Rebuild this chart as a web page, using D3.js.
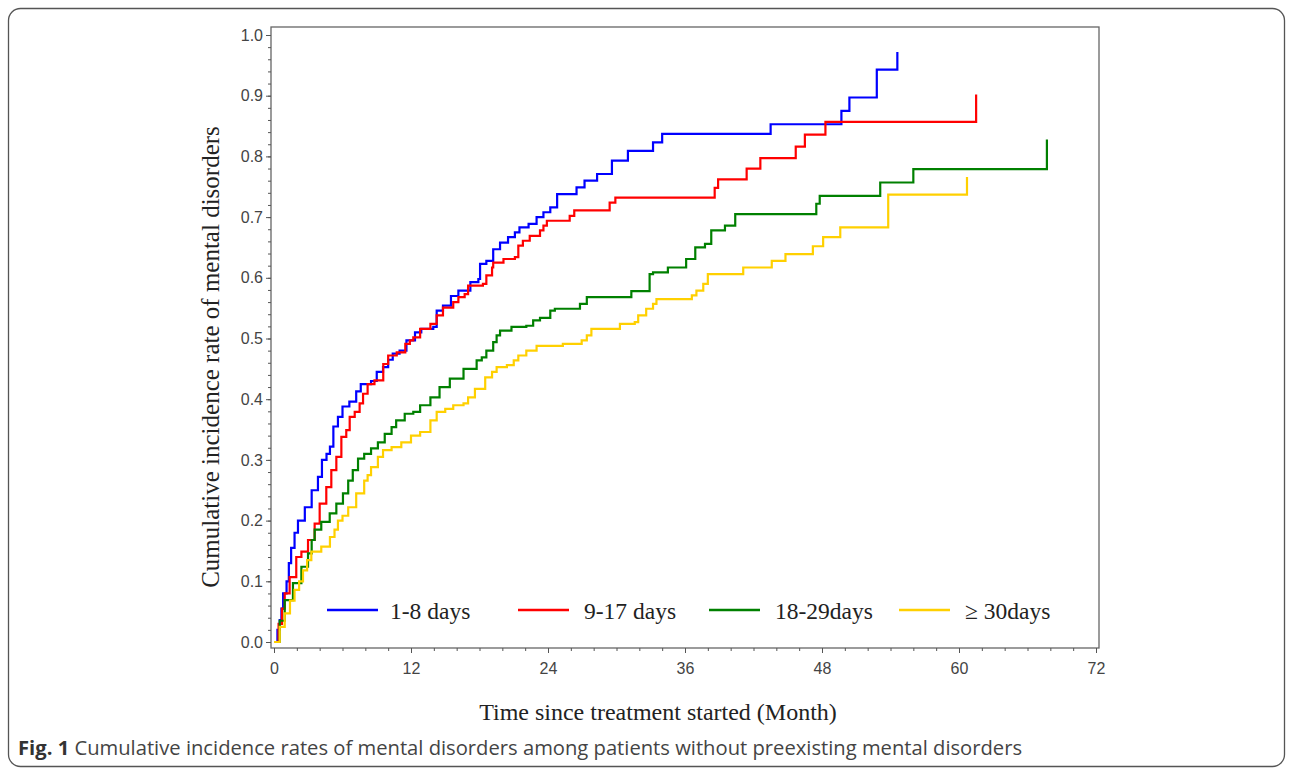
<!DOCTYPE html>
<html lang="en">
<head>
  <meta charset="UTF-8">
  <title>Cumulative incidence of mental disorders</title>
  <script src="https://d3js.org/d3.v7.min.js"></script>
  <style>
    body {
      margin: 0;
      background: #fff;
    }
    .tick text {
      font-family: "Liberation Sans", Arial, sans-serif;
      font-size: 16px;
      fill: #444;
    }
    .tick line {
      stroke: #555;
    }
    .axis-title, .legend text {
      font-family: "Liberation Serif", "Times New Roman", serif;
      fill: #222;
    }
    .caption {
      font-family: "Open Sans", "Noto Sans", sans-serif;
      font-size: 20.2px;
      fill: #444;
    }
  </style>
</head>
<body>
  <svg width="1292" height="770"></svg>

  <script>
    // series labels, in legend order
    const groups = ["1-8 days", "9-17 days", "18-29days", "\u2265 30days"];

    // step points: [month, cumulative incidence]
    const days1to8 = [
      [0,0],[0.3,0.02],[0.5,0.036],[0.65,0.055],[0.8,0.08],[1.1,0.1],[1.3,0.13],[1.5,0.155],
      [1.8,0.18],[2.1,0.2],
      [2.7,0.222],[3.3,0.25],[3.85,0.272],[4.2,0.3],[4.6,0.31],[4.9,0.322],[5.2,0.355],
      [5.6,0.371],[6.0,0.388],[6.6,0.396],[7.2,0.413],[7.6,0.425],[8.5,0.43],[9.0,0.445],
      [9.55,0.453],[10.0,0.465],[10.4,0.475],[11.0,0.48],[11.6,0.497],[12.35,0.51],
      [12.9,0.516],[13.95,0.519],[14.25,0.546],[14.8,0.554],[15.5,0.57],[16.15,0.579],
      [17.2,0.593],[17.9,0.598],[18.05,0.623],[18.6,0.628],[19.2,0.647],[19.8,0.658],
      [20.5,0.667],[21.1,0.675],[21.5,0.683],[22.3,0.689],[23.0,0.7],[23.6,0.708],
      [24.2,0.716],[24.8,0.738],[26.5,0.749],[27.2,0.76],[28.3,0.771],[29.6,0.793],
      [31.0,0.809],[33.2,0.823],[34.0,0.837],[43.5,0.853],[49.7,0.875],[50.4,0.897],
      [52.8,0.943],[54.6,0.972]
    ];
    const days9to17 = [
      [0,0],[0.4,0.03],[0.7,0.055],[0.94,0.08],[1.37,0.107],[1.95,0.14],[2.4,0.149],[2.98,0.168],
      [3.56,0.195],[4.0,0.228],[4.58,0.255],[5.02,0.283],[5.46,0.305],[5.9,0.338],
      [6.33,0.349],[6.63,0.371],[7.07,0.379],[7.5,0.393],[7.8,0.409],[8.2,0.425],
      [8.8,0.431],[9.57,0.458],[10.0,0.472],[10.75,0.477],[11.5,0.491],[11.9,0.497],
      [12.2,0.502],[12.8,0.516],[13.7,0.524],[14.25,0.538],[14.8,0.551],[15.7,0.56],
      [16.15,0.568],[16.7,0.573],[17.0,0.587],[18.3,0.59],[18.6,0.604],[19.1,0.617],
      [19.2,0.625],[20.1,0.631],[21.1,0.634],[21.4,0.653],[21.8,0.661],[22.4,0.669],
      [23.3,0.678],[23.6,0.686],[23.9,0.694],[25.9,0.702],[26.3,0.711],[29.4,0.724],
      [29.9,0.732],[38.6,0.748],[38.9,0.762],[41.4,0.78],[42.6,0.797],[45.7,0.816],
      [46.5,0.836],[48.3,0.857],[61.5,0.902]
    ];
    const days18to29 = [
      [0,0],[0.5,0.035],[0.94,0.069],[1.66,0.097],[2.4,0.124],[2.98,0.146],[3.3,0.168],
      [3.56,0.185],[4.14,0.198],[4.88,0.212],[5.46,0.228],[6.04,0.245],[6.5,0.266],
      [6.9,0.283],[7.36,0.302],[7.9,0.31],[8.5,0.319],[9.1,0.329],[9.7,0.343],[10.3,0.354],
      [10.7,0.365],[11.45,0.376],[12.2,0.379],[12.8,0.39],[13.7,0.403],[14.5,0.42],
      [15.4,0.434],[16.6,0.45],[17.75,0.464],[18.2,0.469],[18.6,0.48],[19.2,0.494],
      [19.5,0.505],[19.8,0.513],[20.8,0.519],[22.1,0.521],[22.7,0.53],[23.3,0.534],
      [24.2,0.546],[24.6,0.549],[26.8,0.557],[27.4,0.568],[31.3,0.578],[32.9,0.606],
      [33.2,0.609],[34.5,0.617],[36.1,0.631],[36.9,0.65],[37.75,0.656],[38.3,0.678],
      [39.5,0.686],[40.4,0.705],[47.5,0.722],[47.8,0.735],[53.1,0.757],[56.0,0.779],
      [67.7,0.828]
    ];
    const days30plus = [
      [0,0],[0.5,0.025],[0.94,0.047],[1.4,0.068],[1.8,0.086],[2.2,0.1],[2.54,0.118],
      [2.9,0.135],[3.27,0.149],[4.14,0.157],[4.9,0.173],[5.3,0.185],[5.6,0.2],[6.0,0.208],
      [6.5,0.222],[7.2,0.245],[7.9,0.266],[8.2,0.275],[8.5,0.288],[9.1,0.305],[9.55,0.316],
      [10.3,0.321],[11.15,0.329],[12.0,0.34],[12.8,0.346],[13.7,0.365],[14.25,0.379],
      [15.0,0.384],[15.7,0.39],[16.6,0.393],[17.0,0.403],[17.6,0.417],[18.5,0.436],
      [19.1,0.445],[19.5,0.453],[20.4,0.456],[21.0,0.464],[21.4,0.472],[22.1,0.48],
      [23.0,0.488],[25.3,0.491],[26.95,0.497],[27.4,0.505],[27.8,0.516],[30.3,0.524],
      [31.6,0.527],[31.9,0.538],[32.6,0.549],[33.2,0.557],[33.5,0.565],[36.6,0.571],
      [37.0,0.579],[37.6,0.59],[38.0,0.606],[41.1,0.617],[43.6,0.628],[44.8,0.639],
      [47.2,0.652],[48.1,0.667],[49.6,0.683],[53.8,0.737],[60.7,0.766]
    ];

    const xTicks = [0, 12, 24, 36, 48, 60, 72];
    const yTicks = [0, 0.1, 0.2, 0.3, 0.4, 0.5, 0.6, 0.7, 0.8, 0.9, 1.0];

    const seriesData = [days1to8, days9to17, days18to29, days30plus];
    const colors = ["#0000ff", "#ff0000", "#008000", "#ffd000"];

    const svg = d3.select("svg");

    // outer figure border
    svg.append("rect")
      .attr("x", 8.5).attr("y", 8.5)
      .attr("width", 1276).attr("height", 758)
      .attr("rx", 12)
      .attr("fill", "none")
      .attr("stroke", "#555")
      .attr("stroke-width", 1.3);

    const frame = {left: 271, top: 27, right: 1099, bottom: 648};

    const x = d3.scaleLinear().domain([0, 72]).range([274, 1096]);
    const y = d3.scaleLinear().domain([0, 1]).range([642, 35]);

    // plot frame
    svg.append("rect")
      .attr("x", frame.left).attr("y", frame.top)
      .attr("width", frame.right - frame.left)
      .attr("height", frame.bottom - frame.top)
      .attr("fill", "none")
      .attr("stroke", "#666")
      .attr("stroke-width", 1.3);

    // x axis, major + minor ticks
    svg.append("g")
      .attr("transform", `translate(0,${frame.bottom})`)
      .call(d3.axisBottom(x).tickValues(d3.range(0, 73, 2)).tickSize(3).tickFormat(""))
      .call(g => g.select(".domain").remove());
    svg.append("g")
      .attr("transform", `translate(0,${frame.bottom})`)
      .call(d3.axisBottom(x).tickValues(xTicks).tickSize(5).tickPadding(10).tickFormat(d3.format("d")))
      .call(g => g.select(".domain").remove());

    // y axis, major + minor ticks
    svg.append("g")
      .attr("transform", `translate(${frame.left},0)`)
      .call(d3.axisLeft(y).tickValues(d3.range(0, 1.001, 0.02)).tickSize(3).tickFormat(""))
      .call(g => g.select(".domain").remove());
    svg.append("g")
      .attr("transform", `translate(${frame.left},0)`)
      .call(d3.axisLeft(y).tickValues(yTicks).tickSize(5).tickPadding(3).tickFormat(d3.format(".1f")))
      .call(g => g.select(".domain").remove());

    // axis titles
    svg.append("text")
      .attr("class", "axis-title")
      .attr("x", 658).attr("y", 720)
      .attr("text-anchor", "middle")
      .attr("font-size", 24)
      .text("Time since treatment started (Month)");
    svg.append("text")
      .attr("class", "axis-title")
      .attr("transform", "translate(219,357) rotate(-90)")
      .attr("text-anchor", "middle")
      .attr("font-size", 25)
      .text("Cumulative incidence rate of mental disorders");

    // step curves
    const line = d3.line()
      .x(d => x(d[0]))
      .y(d => y(d[1]))
      .curve(d3.curveStepAfter);

    svg.append("g")
      .selectAll("path")
      .data(seriesData)
      .join("path")
      .attr("d", line)
      .attr("fill", "none")
      .attr("stroke", (d, i) => colors[i])
      .attr("stroke-width", 2.2);

    // legend
    const legendX = [327, 518, 709, 899];
    const legend = svg.append("g").attr("class", "legend");
    groups.forEach((g, i) => {
      legend.append("line")
        .attr("x1", legendX[i]).attr("x2", legendX[i] + 51)
        .attr("y1", 610).attr("y2", 610)
        .attr("stroke", colors[i])
        .attr("stroke-width", 2.5);
      legend.append("text")
        .attr("x", legendX[i] + 63 + (i > 0 ? 3 : 0))
        .attr("y", 619)
        .attr("font-size", 23.5)
        .text(g);
    });

    // caption
    const cap = svg.append("text")
      .attr("class", "caption")
      .attr("x", 18).attr("y", 755);
    cap.append("tspan")
      .attr("font-weight", "bold")
      .attr("fill", "#333")
      .text("Fig. 1");
    cap.append("tspan")
      .text(" Cumulative incidence rates of mental disorders among patients without preexisting mental disorders");
  </script>
</body>
</html>
